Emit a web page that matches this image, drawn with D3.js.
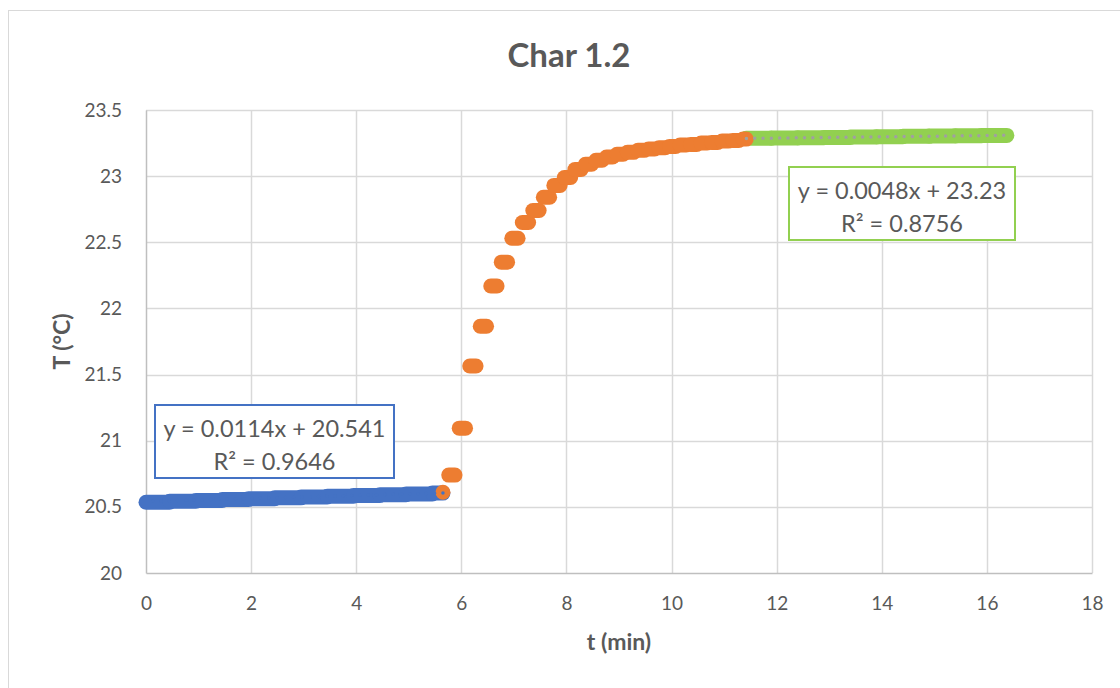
<!DOCTYPE html>
<html>
<head>
<meta charset="utf-8">
<script src="https://cdn.jsdelivr.net/npm/d3@7"></script>
<style>
  html, body { margin: 0; padding: 0; background: #ffffff; }
  svg { display: block; }
  text { font-family: Lato, "Open Sans", "Liberation Sans", sans-serif; fill: #595959; }
</style>
</head>
<body>
<svg id="chart" width="1120" height="688"></svg>
<script>
// Temperature log, grouped into runs of identical readings: [start (min), end (min), T (°C)]
const blueRuns = [
  [0.00, 0.45, 20.535], [0.45, 0.95, 20.542], [0.95, 1.45, 20.549], [1.45, 1.95, 20.556],
  [1.95, 2.45, 20.562], [2.45, 2.95, 20.568], [2.95, 3.45, 20.574], [3.45, 3.95, 20.580],
  [3.95, 4.45, 20.586], [4.45, 4.95, 20.592], [4.95, 5.45, 20.598], [5.45, 5.65, 20.604]
];
const orangeRuns = [
  [5.65, 5.65, 20.61], [5.76, 5.88, 20.74], [5.96, 6.08, 21.095], [6.16, 6.28, 21.565],
  [6.36, 6.48, 21.865], [6.56, 6.68, 22.17], [6.76, 6.88, 22.35], [6.96, 7.08, 22.53],
  [7.16, 7.28, 22.65], [7.36, 7.48, 22.74], [7.56, 7.68, 22.84], [7.76, 7.88, 22.93],
  [7.96, 8.08, 22.99], [8.16, 8.28, 23.05], [8.36, 8.48, 23.09], [8.56, 8.68, 23.12],
  [8.76, 8.88, 23.145], [8.96, 9.08, 23.165], [9.16, 9.28, 23.18], [9.36, 9.48, 23.195],
  [9.56, 9.68, 23.205], [9.76, 9.88, 23.215], [9.96, 10.08, 23.225], [10.16, 10.28, 23.235],
  [10.36, 10.48, 23.24], [10.56, 10.68, 23.25], [10.76, 10.88, 23.255], [10.96, 11.08, 23.265],
  [11.16, 11.28, 23.27], [11.36, 11.42, 23.28]
];
const greenRuns = [
  [11.42, 11.90, 23.286], [11.90, 12.40, 23.288], [12.40, 12.90, 23.291], [12.90, 13.40, 23.293],
  [13.40, 13.90, 23.296], [13.90, 14.40, 23.298], [14.40, 14.90, 23.301], [14.90, 15.40, 23.303],
  [15.40, 15.90, 23.306], [15.90, 16.38, 23.308]
];

// Linear trendlines: slope, intercept, fitted range and label texts
const blueFit = { slope: 0.0114, intercept: 20.541, from: 0, to: 5.65 };
const greenFit = { slope: 0.0048, intercept: 23.23, from: 11.42, to: 16.32 };
const blueLabel = ["y = 0.0114x + 20.541", "R² = 0.9646"];
const greenLabel = ["y = 0.0048x + 23.23", "R² = 0.8756"];

// Axis ticks and titles
const xTicks = [0, 2, 4, 6, 8, 10, 12, 14, 16, 18];
const yTicks = [20, 20.5, 21, 21.5, 22, 22.5, 23, 23.5];
const chartTitle = "Char 1.2";
const xTitle = "t (min)";
const yTitle = "T (°C)";

const colors = { blue: "#4472C4", orange: "#ED7D31", green: "#92D050", trend: "#A0A0A0" };

const svg = d3.select("#chart");
const plot = { left: 146, right: 1092, top: 110, bottom: 573 };
const x = d3.scaleLinear().domain([0, 18]).range([plot.left, plot.right]);
const y = d3.scaleLinear().domain([20, 23.5]).range([plot.bottom, plot.top]);
const markerSize = 15;

// chart area frame
svg.append("rect")
  .attr("x", 8.5).attr("y", 10.5).attr("width", 1130).attr("height", 700)
  .attr("fill", "#ffffff").attr("stroke", "#d9d9d9").attr("stroke-width", 1);

// title
svg.append("text")
  .attr("x", 569).attr("y", 67).attr("text-anchor", "middle")
  .style("font-size", "33px").style("font-weight", "bold")
  .text(chartTitle);

// gridlines
const grid = svg.append("g");
grid.selectAll("line.h").data(yTicks.filter(d => d > 20)).join("line")
  .attr("x1", plot.left).attr("x2", plot.right)
  .attr("y1", d => Math.round(y(d)) + 0.5).attr("y2", d => Math.round(y(d)) + 0.5)
  .attr("stroke", "#d9d9d9").attr("stroke-width", 1.5);
grid.selectAll("line.v").data(xTicks.filter(d => d > 0)).join("line")
  .attr("y1", plot.top).attr("y2", plot.bottom)
  .attr("x1", d => Math.round(x(d)) + 0.5).attr("x2", d => Math.round(x(d)) + 0.5)
  .attr("stroke", "#d9d9d9").attr("stroke-width", 1.5);

// axes
const xAxis = svg.append("g").attr("transform", `translate(0,${plot.bottom})`)
  .call(d3.axisBottom(x).tickValues(xTicks).tickSize(0).tickPadding(24).tickFormat(d3.format("d")));
const yAxis = svg.append("g").attr("transform", `translate(${plot.left},0)`)
  .call(d3.axisLeft(y).tickValues(yTicks).tickSize(0).tickPadding(24).tickFormat(d => String(d)));
[xAxis, yAxis].forEach(g => {
  g.select(".domain").attr("stroke", "#bfbfbf").attr("stroke-width", 1.5);
  g.selectAll("text").style("font-size", "19px").attr("fill", "#595959")
    .style("font-family", "Lato, 'Open Sans', sans-serif");
});

// axis titles
svg.append("text")
  .attr("x", x(9)).attr("y", 650).attr("text-anchor", "middle")
  .style("font-size", "23px").style("font-weight", "bold")
  .text(xTitle);
svg.append("text")
  .attr("transform", `translate(70,${(plot.top + plot.bottom) / 2}) rotate(-90)`)
  .attr("text-anchor", "middle")
  .style("font-size", "23px").style("font-weight", "bold")
  .text(yTitle);

// each run of equal readings is a row of overlapping circular markers
function drawRuns(runs, color) {
  svg.append("g").selectAll("line").data(runs).join("line")
    .attr("x1", d => x(d[0])).attr("x2", d => x(d[1]))
    .attr("y1", d => y(d[2])).attr("y2", d => y(d[2]))
    .attr("stroke", color).attr("stroke-width", markerSize)
    .attr("stroke-linecap", "round");
}
drawRuns(blueRuns, colors.blue);
drawRuns(greenRuns, colors.green);
drawRuns(orangeRuns, colors.orange);

// dotted trendlines, traced from the last point back so a dot lands on each end
function drawFit(fit, color) {
  const pts = [fit.to, fit.from].map(t => [x(t), y(fit.slope * t + fit.intercept)]);
  svg.append("path")
    .attr("d", d3.line()(pts))
    .attr("fill", "none").attr("stroke", color).attr("stroke-width", 3.5)
    .attr("stroke-linecap", "round").attr("stroke-dasharray", "0 8.3");
}
drawFit(blueFit, colors.blue);
drawFit(greenFit, colors.trend);

// trendline equation boxes
function drawLabel(lines, box, color) {
  const g = svg.append("g");
  g.append("rect")
    .attr("x", box.x).attr("y", box.y).attr("width", box.w).attr("height", box.h)
    .attr("fill", "#ffffff").attr("stroke", color).attr("stroke-width", 2);
  g.selectAll("text").data(lines).join("text")
    .attr("x", box.x + box.w / 2).attr("y", (d, i) => box.y + 32 + i * 33)
    .attr("text-anchor", "middle").style("font-size", "23.5px")
    .text(d => d);
}
drawLabel(blueLabel, { x: 155, y: 405, w: 239, h: 73 }, colors.blue);
drawLabel(greenLabel, { x: 789, y: 167, w: 226, h: 73 }, colors.green);
</script>
</body>
</html>
